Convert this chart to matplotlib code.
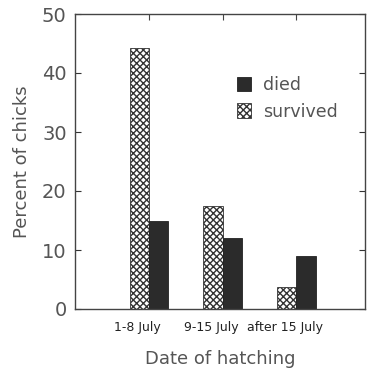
import numpy as np
import matplotlib
matplotlib.use('Agg')
import matplotlib.pyplot as plt
import matplotlib as mpl

periods = ['1-8 July', '9-15 July', 'after 15 July']
survived = [44.3, 17.5, 3.8]
died = [15.0, 12.0, 8.9]

mpl.rcParams['font.family'] = 'DejaVu Sans'
mpl.rcParams['hatch.linewidth'] = 1.0

fig = plt.figure(figsize=(3.67, 3.76), dpi=100)
ax = fig.add_axes([75/367, 1 - 309/376, 290/367, 295/376])

x = np.arange(1, len(periods) + 1)
w = 0.26
ax.bar(x - w/2, survived, w, facecolor='white', edgecolor='#333333',
       hatch='xxxxx', linewidth=0.6, label='survived')
ax.bar(x + w/2, died, w, facecolor='#2b2b2b', edgecolor='#222222',
       linewidth=0.6, label='died')

ax.set_xlim(0.0, 3.93)
ax.set_ylim(0, 50)
ax.set_yticks([0, 10, 20, 30, 40, 50])
ax.tick_params(axis='y', which='both', direction='in', length=4,
               left=True, right=True, labelsize=14, colors='#333333',
               pad=6)
ax.set_xticks(x - 0.15, periods)
ax.tick_params(axis='x', length=0, labelsize=9, pad=9, colors='#222222')
for t in ax.get_yticklabels():
    t.set_color('#555555')

top = ax.secondary_xaxis('top')
top.set_xticks(x)
top.set_xticklabels([])
top.tick_params(direction='in', length=4, color='#444444')
top.spines['top'].set_visible(False)

for s in ax.spines.values():
    s.set_color('#444444')
    s.set_linewidth(1.0)

ax.set_ylabel('Percent of chicks', fontsize=13, color='#555555', labelpad=8)
ax.set_xlabel('Date of hatching', fontsize=13, color='#555555', labelpad=11)

h, l = ax.get_legend_handles_labels()
ax.legend(h[::-1], l[::-1], loc='upper left', bbox_to_anchor=(0.506, 0.843),
          frameon=False, fontsize=12.5, handlelength=0.8, handleheight=0.9,
          handletextpad=0.7, labelspacing=0.5, labelcolor='#555555')

fig.savefig('out.png', dpi=100)
